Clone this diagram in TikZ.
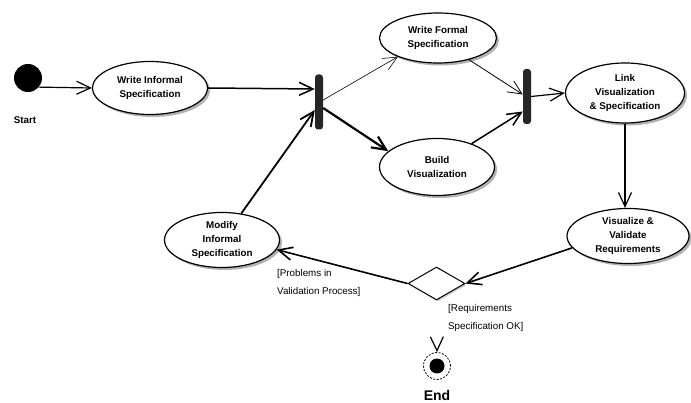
\documentclass[tikz,border=0pt]{standalone}
\usepackage{fontspec}
\setmainfont{Liberation Sans}
\usetikzlibrary{shapes.geometric,arrows.meta,shadows}

\begin{document}
\begin{tikzpicture}[x=1pt,y=-1pt,
  activity/.style={ellipse, draw=black, line width=1.2pt, fill=white, inner sep=0pt,
    align=center, font=\fontsize{9.8}{14}\selectfont\bfseries,
    drop shadow={shadow xshift=2.5pt, shadow yshift=-2.5pt, fill=black!30, opacity=1}},
  forkbar/.style={rectangle, rounded corners=3pt, fill=black!85, draw=none,
    minimum width=8pt, minimum height=55pt, inner sep=0pt},
  flow/.style={-{Straight Barb[length=14pt,width=13pt]}, line width=1.2pt},
  guard/.style={font=\fontsize{9.8}{18}\selectfont, align=left, inner sep=0pt, anchor=north west},
  caption/.style={font=\fontsize{9.8}{12}\selectfont\bfseries, inner sep=0pt},
]
\useasboundingbox (0,0) rectangle (691,403);

% initial and final states
\node[circle, fill=black, minimum size=28pt, inner sep=0pt] (start) at (28,78) {};
\node[caption] (startlabel) at (25,120) {Start};

\node[circle, draw=black, line width=0.8pt, dash pattern=on 2pt off 1.5pt,
      minimum size=27pt, inner sep=0pt] (end) at (437,366) {};
\node[circle, fill=black, minimum size=15pt, inner sep=0pt] (endcore) at (end.center) {};
\node[caption, font=\fontsize{14}{16}\selectfont\bfseries] (endlabel) at (437,395) {End};

% activities
\node[activity, minimum width=115pt, minimum height=53pt] (wis) at (150,88) {Write Informal\\Specification};
\node[activity, minimum width=117pt, minimum height=50pt] (wfs) at (438,38) {Write Formal\\Specification};
\node[activity, minimum width=115pt, minimum height=57pt] (bv) at (437,167) {Build\\Visualization};
\node[activity, minimum width=119pt, minimum height=60pt] (link) at (625,93) {Link\\Visualization\\\& Specification};
\node[activity, minimum width=122pt, minimum height=55pt] (vvr) at (628,236) {Visualize \&\\Validate\\Requirements};
\node[activity, minimum width=115pt, minimum height=55pt] (mis) at (222,240) {Modify\\Informal\\Specification};

% synchronisation bars
\node[forkbar] (fork1) at (319,102) {};
\node[forkbar] (fork2) at (527,96.5) {};

% decision
\node[diamond, draw=black, line width=1pt, fill=white, minimum width=57pt, minimum height=33pt,
      inner sep=0pt, drop shadow={shadow xshift=1.5pt, shadow yshift=-1.5pt, fill=black!20, opacity=1}]
      (dec) at (436.5,283.5) {};

% guards
\node[guard] (g1) at (277,269) {[Problems in\\Validation Process]};
\node[guard] (g2) at (448,304) {[Requirements\\Specification OK]};

% transitions
\draw[flow] (start.-40) -- (wis.west);
\draw[flow, line width=1.5pt] (wis.east) -- ([yshift=13pt]fork1.west);
\draw[flow, line width=0.6pt] ([yshift=2pt]fork1.east) -- (wfs.205);
\draw[flow, line width=2.2pt] ([yshift=-6pt]fork1.east) -- (bv.162);
\draw[flow, line width=0.8pt] (wfs.-35) -- ([yshift=2pt]fork2.west);
\draw[flow, line width=1.5pt] (bv.34) -- ([yshift=-15pt]fork2.west);
\draw[flow] (fork2.east) -- (link.west);
\draw[flow] (link.south) -- (link.south |- vvr.north);
\draw[flow, line width=1.6pt] (vvr.192) -- (dec.east);
\draw[flow, line width=1.6pt] (dec.west) -- (mis.-10);
\draw[flow, line width=1.8pt] (mis.54) -- ([yshift=-8pt]fork1.west);
\draw[flow, shorten <=50pt] (dec.south) -- (end.north);
\end{tikzpicture}
\end{document}
